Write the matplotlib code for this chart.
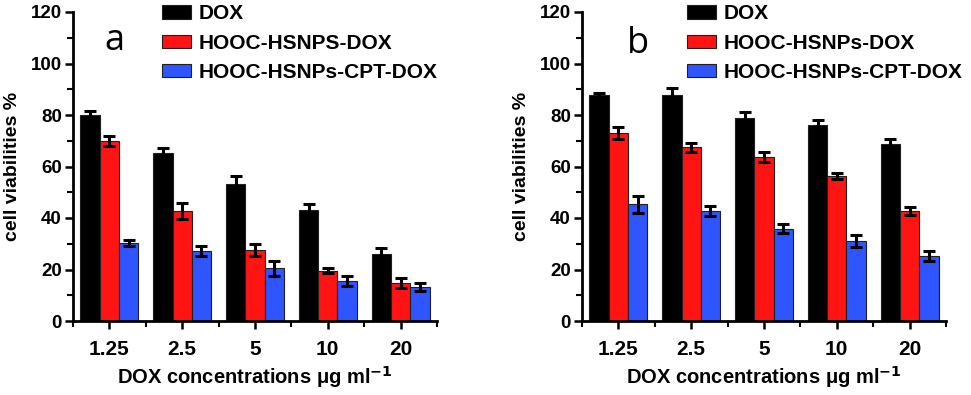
import matplotlib
matplotlib.use("Agg")
import matplotlib.pyplot as plt
import numpy as np
from matplotlib.ticker import MultipleLocator, FixedLocator

plt.rcParams['font.family'] = ['Liberation Sans', 'DejaVu Sans']

categories = ["1.25", "2.5", "5", "10", "20"]

a_dox = [80.0, 65.2, 53.3, 43.0, 26.2]
a_hsnps = [69.8, 42.8, 27.5, 19.6, 14.8]
a_cpt = [30.2, 27.2, 20.4, 15.4, 13.2]
a_dox_err = [1.5, 1.8, 3.0, 2.3, 2.0]
a_hsnps_err = [2.0, 3.0, 2.4, 1.0, 2.0]
a_cpt_err = [1.1, 2.0, 3.0, 2.0, 1.7]

b_dox = [87.9, 87.9, 78.9, 76.0, 68.6]
b_hsnps = [73.0, 67.4, 63.8, 56.3, 42.8]
b_cpt = [45.4, 42.7, 35.8, 31.2, 25.2]
b_dox_err = [0.8, 2.4, 2.2, 2.0, 2.0]
b_hsnps_err = [2.3, 1.6, 2.0, 1.2, 1.5]
b_cpt_err = [3.3, 1.8, 1.8, 2.3, 1.8]

labels_a = ["DOX", "HOOC-HSNPS-DOX", "HOOC-HSNPs-CPT-DOX"]
labels_b = ["DOX", "HOOC-HSNPs-DOX", "HOOC-HSNPs-CPT-DOX"]
colors = ["#000000", "#FF1414", "#2F55FF"]

fig = plt.figure(figsize=(9.71, 3.95), dpi=100)
axA = fig.add_axes([73/971, 1-321/395, 364/971, 309/395])
axB = fig.add_axes([582/971, 1-321/395, 364/971, 309/395])

def draw(ax, series, errs, labels, letter, letter_xy, leg_x):
    x = np.arange(1, len(categories) + 1)
    w = 0.265
    handles = []
    for i, (vals, err, c, lab) in enumerate(zip(series, errs, colors, labels)):
        pos = x + (i - 1) * w
        h = ax.bar(pos, vals, width=w, color=c, edgecolor="#202020", linewidth=0.8, label=lab, zorder=2)
        ax.errorbar(pos, vals, yerr=err, fmt="none", ecolor="black", elinewidth=2.2,
                    capsize=4, capthick=2.2, zorder=3)
        handles.append(h)
    ax.set_xlim(0.5, 5.5)
    ax.set_ylim(0, 120)
    ax.spines['top'].set_visible(False)
    ax.spines['right'].set_visible(False)
    ax.spines['left'].set_linewidth(2)
    ax.spines['bottom'].set_linewidth(2)
    ax.set_xticks(x)
    ax.set_xticklabels(categories, fontsize=15, fontweight='bold')
    ax.xaxis.set_minor_locator(FixedLocator(np.arange(0.5, 5.6, 1.0)))
    ax.yaxis.set_major_locator(MultipleLocator(20))
    ax.yaxis.set_minor_locator(MultipleLocator(10))
    ax.tick_params(axis='both', which='major', direction='out', length=6, width=1.8, pad=6)
    ax.tick_params(axis='both', which='minor', direction='out', length=4, width=1.5)
    ax.tick_params(axis='x', which='major', pad=8)
    ax.tick_params(axis='y', which='major', pad=2)
    for t in ax.get_yticklabels():
        t.set_fontsize(13.5)
        t.set_fontweight('bold')
    ax.set_xlabel("DOX concentrations μg ml$^{\\mathbf{-1}}$", fontsize=14.5, fontweight='bold', labelpad=3)
    ax.set_ylabel("cell viabilities %", fontsize=14, fontweight='bold', labelpad=7)
    ax.text(letter_xy[0], letter_xy[1], letter, transform=ax.transAxes, fontsize=26,
            family='Open Sans', ha='center', va='center')
    leg = ax.legend(handles=handles, loc='upper left', bbox_to_anchor=(leg_x, 1.025),
                    frameon=False, prop={'weight': 'bold', 'size': 15},
                    handlelength=1.4, handleheight=0.6, handletextpad=0.35, labelspacing=0.5,
                    borderaxespad=0, borderpad=0)
    return leg

draw(axA, [a_dox, a_hsnps, a_cpt], [a_dox_err, a_hsnps_err, a_cpt_err], labels_a, "a", (0.115, 0.905), 0.245)
draw(axB, [b_dox, b_hsnps, b_cpt], [b_dox_err, b_hsnps_err, b_cpt_err], labels_b, "b", (0.155, 0.895), 0.288)

fig.savefig("out.png", dpi=100)
